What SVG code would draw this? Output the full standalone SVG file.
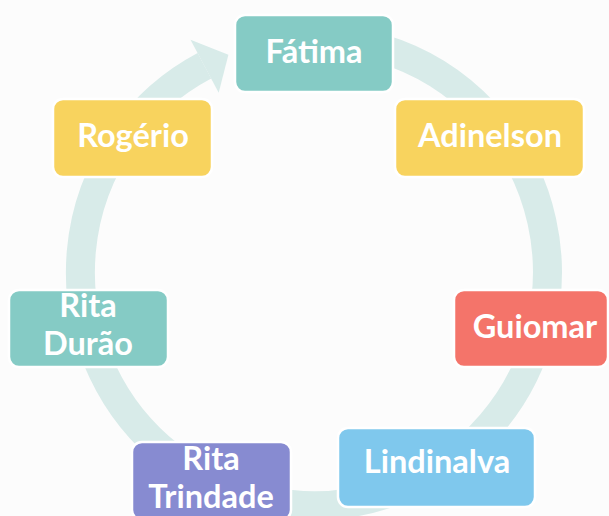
<svg xmlns="http://www.w3.org/2000/svg" width="609" height="516" viewBox="0 0 609 516">
<style>
.box{stroke:#ffffff;stroke-width:2.5}
.t{font-family:Lato,"Open Sans","Liberation Sans",sans-serif;font-weight:700;font-size:32.5px;fill:#ffffff;text-anchor:middle}
.ring{fill:none;stroke:#d8ebe9;stroke-width:29}
</style>
<rect width="609" height="516" fill="#fcfcfc"/>
<g id="connectors">
<path class="ring" d="M273.5,42.05 A233.5,233.5 0 1 1 204.4,65.8"/>
<polygon fill="#d8ebe9" points="218.7,92.8 190.5,39.8 228.4,54.8"/>
</g>
<g id="fatima"><rect class="box" x="235" y="15" width="158" height="77" rx="10" fill="#85cbc5"/><text class="t" x="314" y="63">Fátima</text></g>
<g id="adinelson"><rect class="box" x="395" y="99" width="189" height="78" rx="10" fill="#f8d35e"/><text class="t" x="490" y="147">Adinelson</text></g>
<g id="guiomar"><rect class="box" x="454" y="290" width="154" height="77" rx="10" fill="#f4746a"/><text class="t" x="535" y="338">Guiomar</text></g>
<g id="lindinalva"><rect class="box" x="338" y="428" width="197" height="79" rx="10" fill="#7fc8ed"/><text class="t" x="437" y="473">Lindinalva</text></g>
<g id="rita-trindade"><rect class="box" x="132" y="442" width="159" height="78" rx="10" fill="#878bd1"/><text class="t" x="211" y="470">Rita</text><text class="t" x="211" y="508">Trindade</text></g>
<g id="rita-durao"><rect class="box" x="9" y="290" width="159" height="77" rx="10" fill="#85cbc5"/><text class="t" x="88" y="317">Rita</text><text class="t" x="88" y="355">Durão</text></g>
<g id="rogerio"><rect class="box" x="53" y="99" width="159" height="78" rx="10" fill="#f8d35e"/><text class="t" x="133" y="147">Rogério</text></g>
</svg>
